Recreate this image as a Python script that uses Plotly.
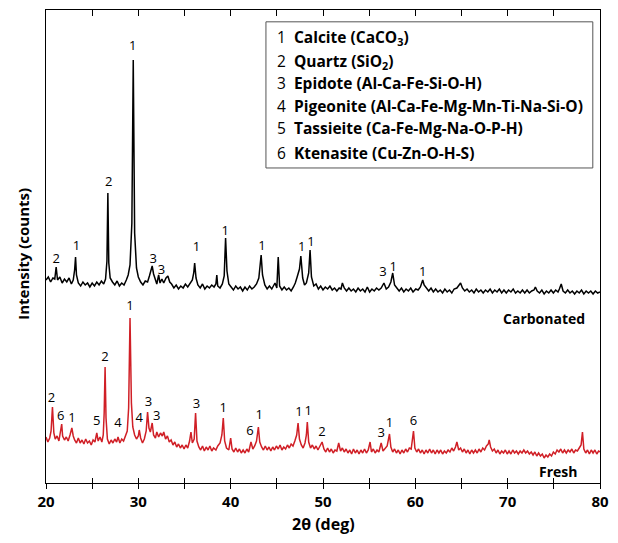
import plotly.graph_objects as go

# ---------------- data (2theta in deg, intensity in arbitrary counts, offset stacked) -------------
carbonated_pts = [
    (20.0, 203), (20.25, 206), (20.5, 201), (20.75, 205), (20.95, 204), (21.1, 216), (21.25, 203),
    (21.5, 206), (21.75, 200), (22.0, 204), (22.25, 201), (22.5, 205), (22.75, 199), (22.95, 203),
    (23.1, 213), (23.2, 226), (23.3, 208), (23.5, 200), (23.75, 197), (24.0, 201), (24.25, 198),
    (24.5, 200), (24.75, 196), (25.0, 200), (25.25, 197), (25.5, 201), (25.75, 198), (26.0, 202),
    (26.25, 199), (26.45, 204), (26.6, 222), (26.7, 290), (26.8, 220), (26.95, 205), (27.2, 201),
    (27.45, 198), (27.7, 202), (27.95, 197), (28.2, 200), (28.45, 198), (28.7, 203), (28.9, 208),
    (29.1, 218), (29.3, 260), (29.45, 423), (29.6, 250), (29.8, 215), (30.0, 206), (30.25, 201),
    (30.5, 198), (30.75, 202), (31.0, 201), (31.2, 207), (31.4, 214), (31.5, 217), (31.65, 209),
    (31.85, 202), (32.0, 199), (32.2, 208), (32.35, 200), (32.55, 204), (32.75, 200), (33.0, 205),
    (33.2, 207), (33.4, 201), (33.6, 199), (33.85, 195), (34.1, 198), (34.35, 194), (34.6, 197),
    (34.85, 195), (35.1, 199), (35.35, 196), (35.6, 200), (35.85, 203), (36.0, 210), (36.1, 220),
    (36.25, 205), (36.45, 198), (36.7, 195), (36.95, 199), (37.2, 194), (37.45, 197), (37.7, 195),
    (37.95, 198), (38.2, 196), (38.4, 199), (38.5, 208), (38.6, 197), (38.85, 195), (39.1, 199),
    (39.3, 207), (39.45, 245), (39.6, 212), (39.8, 199), (40.05, 196), (40.3, 193), (40.55, 197),
    (40.8, 194), (41.05, 196), (41.3, 192), (41.55, 196), (41.8, 193), (42.05, 197), (42.3, 194),
    (42.55, 196), (42.8, 199), (43.05, 205), (43.3, 228), (43.45, 208), (43.7, 198), (43.95, 194),
    (44.2, 197), (44.45, 194), (44.8, 200), (45.0, 195), (45.15, 226), (45.3, 197), (45.55, 193),
    (45.8, 196), (46.05, 193), (46.3, 195), (46.55, 192), (46.8, 196), (47.0, 200), (47.2, 206),
    (47.45, 214), (47.6, 227), (47.8, 205), (48.0, 198), (48.2, 200), (48.45, 210), (48.6, 233),
    (48.75, 206), (49.0, 197), (49.25, 199), (49.5, 194), (49.75, 197), (50.0, 193), (50.25, 196),
    (50.5, 194), (50.75, 197), (51.0, 193), (51.25, 195), (51.5, 192), (51.75, 195), (51.95, 194),
    (52.1, 200), (52.3, 195), (52.55, 192), (52.8, 195), (53.05, 192), (53.3, 194), (53.55, 191),
    (53.8, 195), (54.05, 192), (54.3, 194), (54.55, 191), (54.8, 196), (55.05, 191), (55.3, 194),
    (55.55, 192), (55.8, 195), (56.05, 193), (56.3, 195), (56.6, 200), (56.85, 194), (57.1, 196),
    (57.35, 201), (57.55, 210), (57.75, 198), (58.0, 195), (58.25, 192), (58.5, 195), (58.75, 191),
    (59.0, 194), (59.25, 192), (59.5, 195), (59.75, 191), (60.05, 194), (60.3, 193), (60.55, 196),
    (60.8, 203), (60.95, 198), (61.2, 195), (61.45, 192), (61.7, 195), (61.95, 191), (62.2, 194),
    (62.45, 191), (62.7, 193), (62.95, 190), (63.2, 194), (63.45, 191), (63.7, 193), (63.95, 190),
    (64.2, 194), (64.5, 195), (64.9, 200), (65.1, 195), (65.35, 192), (65.6, 194), (65.85, 191),
    (66.1, 193), (66.35, 190), (66.6, 194), (66.85, 191), (67.1, 193), (67.35, 190), (67.6, 193),
    (67.85, 191), (68.1, 194), (68.35, 190), (68.6, 193), (68.85, 191), (69.1, 194), (69.35, 190),
    (69.6, 193), (69.85, 190), (70.1, 193), (70.35, 191), (70.6, 194), (70.85, 190), (71.1, 192),
    (71.35, 190), (71.6, 193), (71.85, 190), (72.1, 193), (72.35, 190), (72.6, 192), (72.85, 193),
    (73.0, 196), (73.2, 192), (73.45, 190), (73.7, 193), (73.95, 189), (74.2, 192), (74.45, 190),
    (74.7, 193), (74.95, 190), (75.2, 193), (75.45, 191), (75.6, 194), (75.8, 199), (76.0, 192),
    (76.25, 190), (76.5, 193), (76.75, 190), (77.0, 192), (77.25, 189), (77.5, 192), (77.75, 190),
    (78.0, 193), (78.25, 189), (78.5, 192), (78.75, 190), (79.0, 192), (79.25, 189), (79.5, 192),
    (79.75, 190), (80.0, 191),
]

fresh_pts = [
    (20.0, 46), (20.2, 41), (20.4, 45), (20.55, 52), (20.7, 76), (20.85, 50), (21.0, 44), (21.2, 47),
    (21.4, 42), (21.6, 52), (21.7, 59), (21.8, 47), (22.0, 43), (22.2, 46), (22.4, 42), (22.6, 48),
    (22.8, 55), (22.95, 47), (23.1, 43), (23.3, 40), (23.5, 45), (23.7, 40), (23.9, 43), (24.1, 39),
    (24.3, 44), (24.5, 40), (24.7, 42), (24.9, 38), (25.1, 43), (25.3, 41), (25.5, 50), (25.65, 42),
    (25.85, 46), (26.05, 41), (26.2, 48), (26.3, 70), (26.4, 116), (26.5, 65), (26.65, 44), (26.85, 39),
    (27.05, 43), (27.25, 40), (27.45, 44), (27.65, 41), (27.8, 46), (28.0, 40), (28.2, 44), (28.4, 42),
    (28.6, 47), (28.8, 52), (28.95, 75), (29.1, 165), (29.25, 80), (29.4, 56), (29.6, 48), (29.8, 44),
    (30.0, 47), (30.1, 53), (30.25, 45), (30.45, 40), (30.65, 44), (30.85, 52), (31.0, 71), (31.15, 55),
    (31.3, 51), (31.5, 60), (31.65, 48), (31.85, 45), (32.0, 51), (32.2, 46), (32.4, 50), (32.6, 47),
    (32.75, 51), (32.95, 44), (33.15, 47), (33.35, 41), (33.55, 43), (33.75, 38), (33.95, 41),
    (34.15, 36), (34.35, 39), (34.55, 35), (34.75, 38), (34.95, 34), (35.15, 38), (35.35, 35),
    (35.55, 42), (35.7, 51), (35.85, 40), (36.05, 44), (36.2, 70), (36.35, 42), (36.55, 36), (36.75, 33),
    (36.95, 37), (37.15, 32), (37.35, 36), (37.55, 33), (37.75, 37), (37.95, 32), (38.15, 35), (38.4, 33),
    (38.6, 37), (38.85, 40), (39.05, 48), (39.2, 65), (39.35, 42), (39.55, 35), (39.8, 33), (40.0, 45),
    (40.15, 34), (40.35, 31), (40.55, 35), (40.75, 31), (40.95, 34), (41.15, 30), (41.35, 33),
    (41.55, 30), (41.75, 34), (41.95, 31), (42.2, 41), (42.4, 34), (42.6, 37), (42.8, 42), (43.0, 56),
    (43.15, 41), (43.35, 36), (43.55, 33), (43.75, 37), (43.95, 33), (44.15, 36), (44.35, 32),
    (44.55, 36), (44.75, 33), (44.95, 37), (45.15, 34), (45.35, 38), (45.55, 33), (45.75, 36),
    (45.95, 34), (46.15, 38), (46.35, 35), (46.55, 39), (46.75, 37), (46.95, 42), (47.15, 48),
    (47.3, 60), (47.45, 44), (47.65, 38), (47.85, 35), (48.05, 40), (48.2, 48), (48.3, 61), (48.45, 41),
    (48.65, 35), (48.85, 38), (49.05, 34), (49.25, 37), (49.45, 33), (49.65, 36), (49.9, 41), (50.1, 34),
    (50.3, 31), (50.5, 35), (50.7, 31), (50.9, 34), (51.1, 30), (51.3, 33), (51.5, 32), (51.7, 40),
    (51.9, 32), (52.1, 35), (52.3, 31), (52.5, 34), (52.7, 30), (52.9, 33), (53.1, 29), (53.3, 34),
    (53.5, 30), (53.7, 33), (53.9, 29), (54.1, 33), (54.3, 30), (54.5, 34), (54.7, 30), (54.9, 33),
    (55.1, 41), (55.25, 31), (55.45, 34), (55.65, 30), (55.85, 33), (56.05, 31), (56.3, 40), (56.5, 32),
    (56.7, 34), (56.95, 37), (57.2, 49), (57.35, 36), (57.55, 31), (57.75, 34), (57.95, 30), (58.15, 33),
    (58.35, 29), (58.55, 33), (58.75, 30), (58.95, 34), (59.15, 31), (59.35, 35), (59.55, 34),
    (59.8, 52), (59.95, 35), (60.15, 31), (60.35, 34), (60.55, 30), (60.75, 33), (60.95, 29),
    (61.15, 33), (61.35, 30), (61.55, 34), (61.75, 30), (61.95, 33), (62.15, 29), (62.35, 33),
    (62.55, 30), (62.75, 33), (62.95, 29), (63.15, 32), (63.35, 30), (63.55, 33), (63.75, 31),
    (63.95, 35), (64.15, 32), (64.35, 36), (64.5, 41), (64.7, 33), (64.9, 35), (65.1, 31), (65.3, 34),
    (65.5, 30), (65.7, 33), (65.9, 29), (66.1, 33), (66.3, 30), (66.5, 33), (66.7, 30), (66.9, 34),
    (67.1, 31), (67.3, 35), (67.5, 33), (67.7, 37), (67.9, 39), (68.0, 43), (68.15, 36), (68.35, 32),
    (68.55, 34), (68.75, 30), (68.95, 33), (69.15, 29), (69.35, 32), (69.55, 30), (69.75, 33),
    (69.95, 29), (70.15, 32), (70.35, 29), (70.55, 33), (70.75, 30), (70.95, 32), (71.15, 29),
    (71.35, 32), (71.55, 30), (71.75, 33), (71.95, 30), (72.15, 32), (72.35, 29), (72.55, 31),
    (72.75, 28), (72.95, 31), (73.15, 27), (73.35, 30), (73.55, 27), (73.75, 29), (73.95, 25),
    (74.15, 28), (74.35, 26), (74.55, 29), (74.75, 27), (74.95, 31), (75.15, 29), (75.35, 33),
    (75.55, 31), (75.75, 34), (75.95, 30), (76.15, 33), (76.35, 30), (76.55, 33), (76.75, 31),
    (76.95, 34), (77.15, 30), (77.35, 33), (77.55, 32), (77.75, 35), (77.95, 38), (78.1, 51),
    (78.25, 34), (78.45, 30), (78.65, 33), (78.85, 29), (79.05, 33), (79.25, 30), (79.45, 33),
    (79.65, 29), (79.85, 32), (80.0, 31),
]

# peak assignment labels (2theta, label height, phase number)
carbonated_labels = [
    (21.1, 223, "2"), (23.3, 236, "1"), (26.8, 300, "2"), (29.4, 436, "1"), (31.6, 223, "3"),
    (32.5, 212, "3"), (36.3, 235, "1"), (39.4, 251, "1"), (43.4, 236, "1"), (47.7, 235, "1"),
    (48.7, 240, "1"), (56.5, 210, "3"), (57.6, 215, "1"), (60.8, 210, "1"),
]
fresh_labels = [
    (20.6, 84, "2"), (21.6, 66, "6"), (22.8, 64, "1"), (25.5, 61, "5"), (26.4, 125, "2"),
    (27.8, 59, "4"), (29.1, 176, "1"), (30.1, 64, "4"), (31.1, 80, "3"), (32.0, 66, "3"),
    (36.3, 78, "3"), (39.2, 74, "1"), (42.1, 51, "6"), (43.1, 67, "1"), (47.4, 70, "1"),
    (48.4, 71, "1"), (49.9, 50, "2"), (56.3, 49, "3"), (57.2, 59, "1"), (59.8, 61, "6"),
]

phase_numbers = ["1", "2", "3", "4", "5", "6"]
phase_names = [
    "Calcite (CaCO<sub>3</sub>)",
    "Quartz (SiO<sub>2</sub>)",
    "Epidote (Al-Ca-Fe-Si-O-H)",
    "Pigeonite (Al-Ca-Fe-Mg-Mn-Ti-Na-Si-O)",
    "Tassieite (Ca-Fe-Mg-Na-O-P-H)",
    "Ktenasite (Cu-Zn-O-H-S)",
]
x_tick_values = [20, 30, 40, 50, 60, 70, 80]
series_names = ["Carbonated", "Fresh"]

FONT = "Open Sans"

fig = go.Figure()
fig.add_trace(go.Scatter(
    x=[p[0] for p in carbonated_pts], y=[p[1] for p in carbonated_pts],
    mode="lines", line=dict(color="black", width=1.5), name=series_names[0], showlegend=False,
))
fig.add_trace(go.Scatter(
    x=[p[0] for p in fresh_pts], y=[p[1] for p in fresh_pts],
    mode="lines", line=dict(color="#d01f26", width=1.5), name=series_names[1], showlegend=False,
))
for labels in (carbonated_labels, fresh_labels):
    fig.add_trace(go.Scatter(
        x=[l[0] for l in labels], y=[l[1] for l in labels], text=[l[2] for l in labels],
        mode="text", textfont=dict(family=FONT, size=13, color="black"),
        showlegend=False, hoverinfo="skip",
    ))
# helper traces so the extra tick axes render
fig.add_trace(go.Scatter(x=[None], y=[None], xaxis="x2", showlegend=False, hoverinfo="skip"))
fig.add_trace(go.Scatter(x=[None], y=[None], xaxis="x3", showlegend=False, hoverinfo="skip"))

# phase key box
fig.add_shape(type="rect", xref="paper", yref="paper", x0=0.397, x1=0.987, y0=0.666, y1=0.975,
              line=dict(color="#555555", width=1), fillcolor="white", layer="below")
legend_y = [0.941, 0.892, 0.845, 0.796, 0.750, 0.698]
for num, name, yy in zip(phase_numbers, phase_names, legend_y):
    fig.add_annotation(xref="paper", yref="paper", x=0.413, y=yy, xanchor="left", yanchor="middle",
                       text=f"{num}  <b>{name}</b>", showarrow=False,
                       font=dict(family=FONT, size=15.5, color="black"))

fig.add_annotation(xref="paper", yref="paper", x=0.899, y=0.347, text="<b>Carbonated</b>",
                   xanchor="center", yanchor="middle",
                   showarrow=False, font=dict(family=FONT, size=14, color="black"))
fig.add_annotation(xref="paper", yref="paper", x=0.924, y=0.025, text="<b>Fresh</b>",
                   xanchor="center", yanchor="middle",
                   showarrow=False, font=dict(family=FONT, size=14, color="black"))
# axis titles
fig.add_annotation(xref="paper", yref="paper", x=0.5, y=-0.087, text="<b>2θ (deg)</b>",
                   showarrow=False, xanchor="center", yanchor="middle",
                   font=dict(family=FONT, size=16, color="black"))
fig.add_annotation(xref="paper", yref="paper", x=-0.043, y=0.485, text="<b>Intensity (counts)</b>",
                   textangle=-90, showarrow=False, xanchor="center", yanchor="middle",
                   font=dict(family=FONT, size=15, color="black"))

# the page body has an 8 px default margin, so the figure is sized/offset to compensate
fig.update_layout(
    width=610, height=535,
    margin=dict(l=38, r=18, t=2, b=60, autoexpand=False),
    plot_bgcolor="white", paper_bgcolor="white",
    font=dict(family=FONT, color="black"),
    xaxis=dict(
        range=[20, 80], tickvals=x_tick_values, ticks="outside", ticklen=5, tickcolor="black",
        minor=dict(dtick=5, tick0=20, ticks="outside", ticklen=5, tickcolor="black"),
        showline=True, linecolor="black", linewidth=1, showgrid=False, zeroline=False,
        tickfont=dict(family=FONT, size=15, weight="bold"), automargin=False,
    ),
    xaxis2=dict(
        range=[20, 80], overlaying="x", side="top", anchor="y", dtick=5, tick0=20,
        ticks="inside", ticklen=6, tickcolor="black", showticklabels=False, automargin=False,
        showline=True, linecolor="black", linewidth=1, showgrid=False, zeroline=False,
    ),
    xaxis3=dict(
        range=[20, 80], overlaying="x", side="bottom", anchor="y", dtick=5, tick0=20,
        ticks="inside", ticklen=5, tickcolor="black", showticklabels=False, automargin=False,
        showline=False, showgrid=False, zeroline=False,
    ),
    yaxis=dict(
        range=[0, 473], showline=True, linecolor="black", linewidth=1, mirror=True,
        ticks="", showticklabels=False, showgrid=False, zeroline=False, automargin=False,
    ),
)

fig.write_html("out.html")
